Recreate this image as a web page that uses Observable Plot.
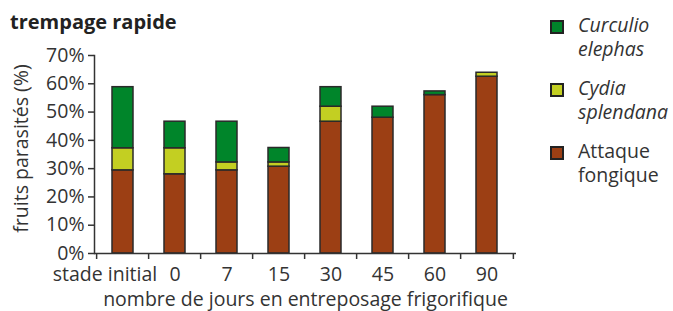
<!DOCTYPE html>
<html>
<head>
<meta charset="utf-8">
<script src="https://cdn.jsdelivr.net/npm/d3@7"></script>
<script src="https://cdn.jsdelivr.net/npm/@observablehq/plot@0.6"></script>
<style>
  html, body { margin: 0; padding: 0; background: #fff; }
  body { font-family: "Open Sans", "Noto Sans", sans-serif; color: #333; }
  #wrap { position: relative; width: 673px; height: 311px; overflow: hidden; }
  #title { position: absolute; left: 10px; top: 9px; font-weight: bold; font-size: 20px; line-height: 26px; color: #222; }
  #chart { position: absolute; left: 0; top: 0; width: 540px; height: 311px; }
  #chart svg { max-width: none !important; width: 540px; height: 311px; }
  #legend { position: absolute; left: 550px; top: 0; font-size: 19.5px; line-height: 23.5px; color: #333; }
  .item { position: absolute; left: 0; white-space: nowrap; }
  .sw { position: absolute; left: 0; width: 10px; height: 10px; border: 2px solid #222; }
  .lbl { position: absolute; left: 28px; top: 0; }
</style>
</head>
<body>
<div id="wrap">
  <div id="chart"></div>
  <div id="title">trempage rapide</div>
  <div id="legend"></div>
</div>
<script>
const categories = ["stade initial", "0", "7", "15", "30", "45", "60", "90"];
const series = ["Attaque fongique", "Cydia splendana", "Curculio elephas"];
const attaque = [29.4, 28.0, 29.4, 30.7, 46.6, 48.0, 56.0, 62.5];
const cydia   = [7.8, 9.2, 2.8, 1.5, 5.3, 0, 0, 1.4];
const curculio = [21.6, 9.4, 14.4, 5.1, 6.9, 3.9, 1.3, 0];
const colors = ["#9c3f14", "#c3cf22", "#00852a"];
const yTicks = [0, 10, 20, 30, 40, 50, 60, 70];
const yLabel = "fruits parasités (%)";
const xLabel = "nombre de jours en entreposage frigorifique";
const legendItems = [
  {name: "Curculio elephas", lines: ["Curculio", "elephas"], italic: true, color: "#00852a"},
  {name: "Cydia splendana", lines: ["Cydia", "splendana"], italic: true, color: "#c3cf22"},
  {name: "Attaque fongique", lines: ["Attaque", "fongique"], italic: false, color: "#9c3f14"}
];

const values = [attaque, cydia, curculio];
const data = [];
categories.forEach((c, i) => {
  series.forEach((s, j) => data.push({cat: c, serie: s, value: values[j][i]}));
});

const W = 540, ML = 94, MR = 24;
const step = (W - ML - MR) / categories.length;
const font = '"Open Sans", "Noto Sans", sans-serif';

const chart = Plot.plot({
  width: W, height: 311,
  marginLeft: ML, marginRight: MR, marginTop: 55, marginBottom: 58,
  style: {fontFamily: font, fontSize: "19.5px", color: "#333", background: "transparent", overflow: "visible"},
  x: {domain: categories, paddingInner: 0.59, paddingOuter: 0.295, label: null},
  y: {domain: [0, 70], label: null},
  color: {domain: series, range: colors},
  marks: [
    Plot.barY(data, {x: "cat", y: "value", fill: "serie", stroke: "#2a2a2a", strokeWidth: 1.5, order: series}),
    Plot.ruleY([0], {stroke: "#333", strokeWidth: 1.5}),
    Plot.frame({anchor: "left", stroke: "#333", strokeWidth: 1.5}),
    Plot.axisY({ticks: yTicks, tickFormat: d => d + "%", tickSize: 6, tickPadding: 4, strokeWidth: 1.5, label: null}),
    Plot.text([yLabel], {frameAnchor: "left", textAnchor: "middle", lineAnchor: "middle", rotate: -90, dx: -73, dy: -6, fontSize: 19.5, fill: "#333"}),
    Plot.axisX({ticks: categories.slice(0, 1), tickSize: 0, tickPadding: 14, dx: -18, label: null}),
    Plot.axisX({ticks: categories.slice(1), tickSize: 0, tickPadding: 14, label: xLabel,
      labelAnchor: "center", labelArrow: "none", labelOffset: 52}),
    Plot.axisX({tickSize: 6, text: null, label: null, dx: -step / 2, strokeWidth: 1.5}),
    Plot.axisX({ticks: categories.slice(-1), tickSize: 6, text: null, label: null, dx: step / 2, strokeWidth: 1.5})
  ]
});
document.getElementById("chart").appendChild(chart);

const legend = document.getElementById("legend");
legendItems.forEach((it, i) => {
  const d = document.createElement("div");
  d.className = "item";
  d.style.top = (13 + i * 63) + "px";
  const sw = document.createElement("div");
  sw.className = "sw";
  sw.style.background = it.color;
  sw.style.top = "7px";
  const l = document.createElement("div");
  l.className = "lbl";
  l.style.fontStyle = it.italic ? "italic" : "normal";
  l.innerHTML = it.lines.join("<br>");
  d.appendChild(sw); d.appendChild(l);
  legend.appendChild(d);
});
</script>
</body>
</html>
